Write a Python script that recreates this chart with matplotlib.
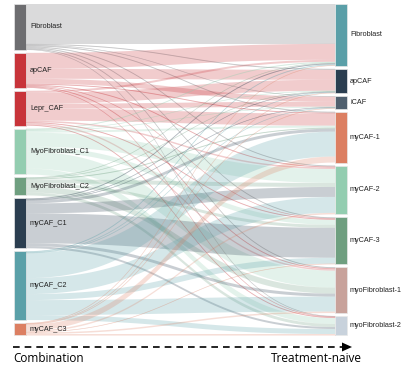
import numpy as np
import matplotlib.pyplot as plt
from matplotlib.patches import Rectangle, Polygon

# sankey: Combination (left) -> Treatment-naive (right)
left_names = ['Fibroblast', 'apCAF', 'Lepr_CAF', 'MyoFibroblast_C1', 'MyoFibroblast_C2',
              'myCAF_C1', 'myCAF_C2', 'myCAF_C3']
right_names = ['Fibroblast', 'apCAF', 'iCAF', 'myCAF-1', 'myCAF-2', 'myCAF-3',
               'myoFibroblast-1', 'myoFibroblast-2']
left_colors = ['#6d6d70', '#c8343a', '#c8343a', '#93cdb0', '#6f9f80', '#2b3e50', '#5aa0a8', '#dc7f62']
right_colors = ['#5a9fa8', '#2b3e50', '#4f5f6e', '#dc7f62', '#93cdb0', '#6f9f80', '#c8a29b', '#c8d2dc']

# flow[i][j] : left node i -> right node j
flows = [
    [40, 1, 0.5, 1, 1, 1, 1, 0.5],
    [16, 10, 5, 1, 1, 0.5, 1, 0.5],
    [2, 11, 5, 12, 1.5, 1, 1.5, 1],
    [1, 0.5, 0.5, 2, 14, 5, 17, 6],
    [0.5, 0.5, 0, 1, 4, 3, 6, 3],
    [1, 0.5, 0.5, 3, 10, 30, 3, 2],
    [1, 0.5, 0.5, 25, 16, 6, 15, 5],
    [0.5, 0.5, 0.5, 6, 1.5, 0.5, 1.5, 1],
]
flows = np.array(flows, dtype=float)

W, H = 419, 366
fig = plt.figure(figsize=(W / 100, H / 100), dpi=100)
ax = fig.add_axes([0, 0, 1, 1])
ax.set_xlim(0, W)
ax.set_ylim(H, 0)
ax.axis('off')

top, bottom, gap = 4, 335, 3
xl, xr, nw = 14, 335, 12

left_tot = flows.sum(axis=1)
right_tot = flows.sum(axis=0)
scale = (bottom - top - gap * 7) / max(left_tot.sum(), right_tot.sum())


def stack(tots):
    ys = []
    y = top
    for t in tots:
        ys.append(y)
        y += t * scale + gap
    return ys


left_y = stack(left_tot)
right_y = stack(right_tot)

# links
t = np.linspace(0, 1, 60)
x0, x1 = xl + nw, xr
bx = (1 - t) ** 3 * x0 + 3 * (1 - t) ** 2 * t * (x0 + (x1 - x0) / 2) \
    + 3 * (1 - t) * t ** 2 * (x1 - (x1 - x0) / 2) + t ** 3 * x1
by_w = 3 * (1 - t) * t ** 2 + t ** 3  # weight of the right end

src_off = list(left_y)
tgt_off = list(right_y)
segs = {}
for i in range(8):
    for j in range(8):
        h = flows[i, j] * scale
        segs[(i, j)] = [src_off[i], None, h]
        src_off[i] += h
for j in range(8):
    for i in range(8):
        segs[(i, j)][1] = tgt_off[j]
        tgt_off[j] += flows[i, j] * scale

for (i, j), (ys, yt, h) in segs.items():
    if h <= 0:
        continue
    yc_top = ys + (yt - ys) * by_w
    yc_bot = yc_top + h
    pts = np.concatenate([np.c_[bx, yc_top], np.c_[bx[::-1], yc_bot[::-1]]])
    ax.add_patch(Polygon(pts, closed=True, fc=left_colors[i], ec='none', alpha=0.25))
    if h < 1.2:
        ax.plot(bx, yc_top + h / 2, color=left_colors[i], lw=0.5, alpha=0.2)

# nodes
for k in range(8):
    ax.add_patch(Rectangle((xl, left_y[k]), nw, left_tot[k] * scale,
                           fc=left_colors[k], ec='#e8e8e8', lw=0.5))
    ax.text(xl + nw + 4, left_y[k] + left_tot[k] * scale / 2, left_names[k],
            fontsize=5.2, family='Liberation Sans', va='center', ha='left', color='#222222')
    ax.add_patch(Rectangle((xr, right_y[k]), nw, right_tot[k] * scale,
                           fc=right_colors[k], ec='#e8e8e8', lw=0.5))
    ax.text(xr + nw + 3, right_y[k] + right_tot[k] * scale / 2, right_names[k],
            fontsize=5.2, family='Liberation Sans', va='center', ha='left', color='#222222')

# arrow
ax.plot([13, 342], [347, 347], color='black', lw=1.2, ls=(0, (4, 3)))
ax.add_patch(Polygon([[342, 342.5], [352, 347], [342, 351.5]], closed=True, fc='black', ec='none'))
ax.text(13, 359, 'Combination', fontsize=8.5, family='Open Sans', va='center', ha='left')
ax.text(362, 359, 'Treatment-naive', fontsize=8.5, family='Open Sans', va='center', ha='right')

fig.savefig('out.png', dpi=100)
